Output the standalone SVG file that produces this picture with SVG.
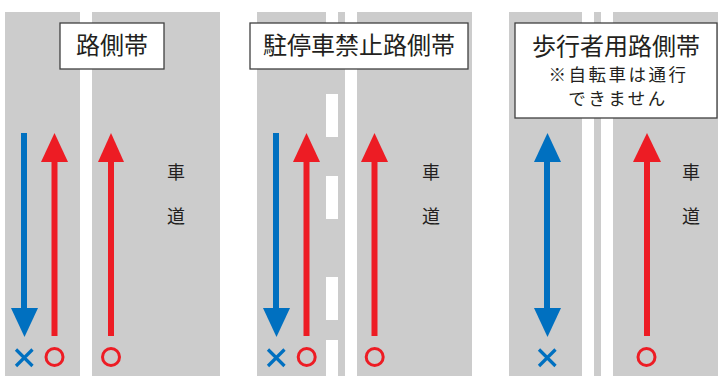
<svg xmlns="http://www.w3.org/2000/svg" width="718" height="376" viewBox="0 0 718 376">
<style>
.road{fill:#cccccc}
.dash{fill:#ffffff}
.box{fill:#ffffff;stroke:#404040;stroke-width:1.3}
.t{font-family:"Noto Sans CJK JP","Noto Sans CJK SC",sans-serif;fill:#231f20;text-anchor:middle}
.title{font-size:24px}
.sub{font-size:17.5px;letter-spacing:2.5px}
.lane{font-size:18px}
.bl{stroke:#0070c0;stroke-width:6;fill:none}
.rl{stroke:#ed1c24;stroke-width:6;fill:none}
.bh{fill:#0070c0}
.rh{fill:#ed1c24}
.ok{fill:none;stroke:#ed1c24;stroke-width:3}
.ng{stroke:#0070c0;stroke-width:3.2;fill:none}
</style>
<g id="roads">
<rect class="road" x="5" y="12" width="75" height="364"/>
<rect class="road" x="92" y="12" width="128" height="364"/>
<rect class="road" x="257" y="12" width="88" height="364"/>
<rect class="road" x="357" y="12" width="115" height="364"/>
<rect class="road" x="509" y="12" width="73" height="364"/>
<rect class="road" x="594" y="12" width="7" height="364"/>
<rect class="road" x="613" y="12" width="105" height="364"/>
<rect class="dash" x="326" y="12" width="12" height="40"/>
<rect class="dash" x="326" y="94" width="12" height="43"/>
<rect class="dash" x="326" y="176" width="12" height="43"/>
<rect class="dash" x="326" y="277" width="12" height="43"/>
<rect class="dash" x="326" y="340" width="12" height="36"/>
</g>
<g id="connectors">
<line class="bl" x1="24" y1="133" x2="24" y2="310"/>
<polygon class="bh" points="11,308 38,308 24.5,337"/>
<line class="rl" x1="54.5" y1="160" x2="54.5" y2="336"/>
<polygon class="rh" points="41,162 68,162 54.5,133"/>
<line class="rl" x1="111" y1="160" x2="111" y2="336"/>
<polygon class="rh" points="98,162 124,162 111,133"/>
<line class="bl" x1="276" y1="133" x2="276" y2="310"/>
<polygon class="bh" points="263,308 290,308 276.5,337"/>
<line class="rl" x1="306.5" y1="160" x2="306.5" y2="336"/>
<polygon class="rh" points="293,162 320,162 306.5,133"/>
<line class="rl" x1="374.5" y1="160" x2="374.5" y2="336"/>
<polygon class="rh" points="361,162 388,162 374.5,133"/>
<line class="bl" x1="547" y1="160" x2="547" y2="310"/>
<polygon class="bh" points="534,162 561,162 547.5,133"/>
<polygon class="bh" points="534,308 561,308 547.5,337"/>
<line class="rl" x1="647" y1="160" x2="647" y2="336"/>
<polygon class="rh" points="633,162 661,162 647,133"/>
</g>
<g id="marks">
<path class="ng" d="M16,349.5 L32.5,366 M32.5,349.5 L16,366"/>
<circle class="ok" cx="54.5" cy="357" r="8.5"/>
<circle class="ok" cx="111" cy="357" r="8.5"/>
<path class="ng" d="M268,349.5 L284.5,366 M284.5,349.5 L268,366"/>
<circle class="ok" cx="306.7" cy="357" r="8.5"/>
<circle class="ok" cx="374.7" cy="357" r="8.5"/>
<path class="ng" d="M539,349.5 L555.5,366 M555.5,349.5 L539,366"/>
<circle class="ok" cx="646.5" cy="357" r="8.5"/>
</g>
<g id="lane-labels">
<text class="t lane" x="176" y="179">車</text>
<text class="t lane" x="176" y="223">道</text>
<text class="t lane" x="431" y="179">車</text>
<text class="t lane" x="431" y="223">道</text>
<text class="t lane" x="691" y="179">車</text>
<text class="t lane" x="691" y="223">道</text>
</g>
<g id="node-rosokutai">
<rect class="box" x="60" y="23" width="104" height="46"/>
<text class="t title" x="112" y="54">路側帯</text>
</g>
<g id="node-chuteisha">
<rect class="box" x="250" y="23" width="218" height="46"/>
<text class="t title" x="359" y="54">駐停車禁止路側帯</text>
</g>
<g id="node-hokousha">
<rect class="box" x="515" y="23" width="202" height="95"/>
<text class="t title" x="616" y="54.5">歩行者用路側帯</text>
<text class="t sub" x="618.5" y="80.5">※自転車は通行</text>
<text class="t sub" x="618" y="104.5">できません</text>
</g>
</svg>
